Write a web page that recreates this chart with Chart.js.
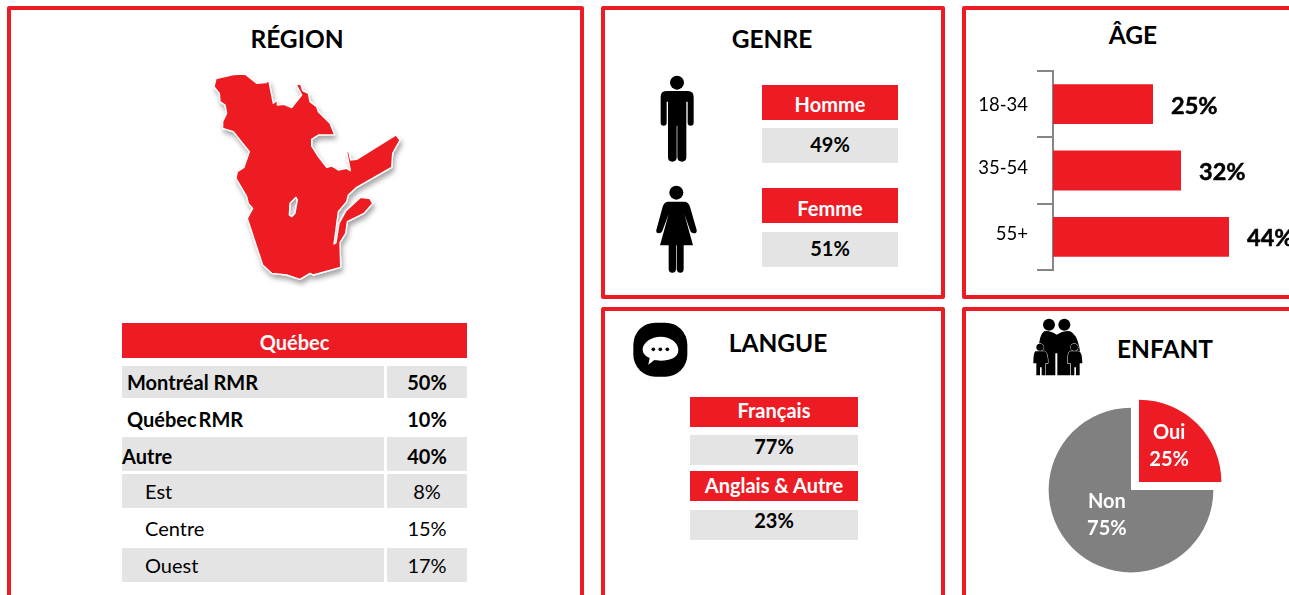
<!DOCTYPE html>
<html lang="fr"><head><meta charset="utf-8">
<script src="https://cdn.jsdelivr.net/npm/chart.js@4"></script>
<style>
html,body{margin:0;padding:0;background:#fff;overflow:hidden;width:1289px;height:595px;font-family:Lato,Carlito,sans-serif;color:#000}
#stage{position:relative;width:1289px;height:595px;overflow:hidden}
.abs{position:absolute;box-sizing:border-box}
.panel{border:4px solid #ED1C24;border-radius:2px}
.title{font-weight:700;font-size:24.5px;text-align:center;white-space:nowrap;transform:translateX(-50%);line-height:30px}
.cell{display:flex;align-items:center;justify-content:center;font-size:20px;white-space:nowrap}
.cell span{position:relative}
.red{background:#ED1C24;color:#fff;font-weight:700}
.gray{background:#E4E4E4}
.b{font-weight:700}
canvas{position:absolute}
</style></head><body><div id="stage">
<svg class="abs" style="left:190px;top:60px;overflow:visible" width="230" height="230" viewBox="0 0 690 690">
<defs><filter id="sh" x="-10%" y="-10%" width="125%" height="125%"><feDropShadow dx="5" dy="12" stdDeviation="8" flood-color="#000" flood-opacity=".35"/></filter></defs>
<path filter="url(#sh)" fill="#ED1C24" stroke="#fff" stroke-width="4" stroke-linejoin="round" fill-rule="evenodd" d="M78 56L130 44L165 42L200 70L228 68L236 60L250 130L262 120L262 135L282 133L305 143L335 105L318 72L332 73L338 92L355 100L360 125L380 140L385 155L420 190L434 224L385 225L365 238L365 258L385 290L410 322L425 318L445 330L470 325L481 332L470 275L476 275L482 300L500 298L618 225L630 240L608 280L605 322L500 382L475 405L470 425L445 455L432 552L438 548L447 490L468 452L512 412L540 416L548 430L522 460L472 485L467 520L450 548L452 622L370 645L360 640L330 658L290 645L245 640L218 615L172 475L188 445L175 430L170 410L138 355L142 335L162 322L178 275L130 215L98 205L98 185L110 160L105 135L90 125L88 100L72 80Z M300 430L318 412L322 420L315 460L305 470L298 465Z"/>
</svg>
<svg class="abs" style="left:620px;top:60px" width="100" height="220" viewBox="0 0 300 660" fill="#000">
<circle cx="171" cy="68" r="21"/>
<path d="M138 93H204Q221 93 221 112V188Q221 197 212 197T203 188V125H199V292Q199 305 186 305T172 292V197H170V292Q170 305 157 305T144 292V125H140V188Q140 197 131 197T122 188V112Q122 93 138 93Z"/>
<circle cx="169" cy="398" r="21"/>
<path d="M145 425H193Q205 425 210 440L230 510Q231 520 222 520T210 510L193 462L219 556H191V626Q191 638 181 638T170 626V556H168V626Q168 638 157 638T146 626V556H120L146 462L128 510Q125 520 116 520T109 510L128 440Q133 425 145 425Z"/>
</svg>
<svg class="abs" style="left:620px;top:310px" width="90" height="80" viewBox="0 0 270 240">
<rect x="40" y="38" width="162" height="162" rx="66" fill="#000"/>
<path d="M122 80C150 80 175 97 175 120S150 152 122 152C114 152 108 151 103 150L85 164L89 144C76 138 68 132 68 118C68 98 94 80 122 80Z" fill="#fff"/>
<circle cx="100" cy="118" r="5.5" fill="#000"/><circle cx="121" cy="118" r="5.5" fill="#000"/><circle cx="142" cy="118" r="5.5" fill="#000"/>
</svg>
<svg class="abs" style="left:1020px;top:310px" width="220" height="80" viewBox="0 0 660 240" fill="#000">
<circle cx="87" cy="44" r="18"/><circle cx="133" cy="44" r="18"/>
<path d="M72 64Q88 60 110 74Q130 60 150 64Q170 72 178 112L180 125L150 140V196H112V130H106V196H72V140L56 125Q56 76 72 64Z"/>
<g stroke="#fff" stroke-width="3" paint-order="stroke">
<circle cx="60" cy="112" r="11"/><circle cx="163" cy="112" r="11"/>
<path d="M46 124H74Q84 128 84 160H76V196H65V172H60V196H49V160H40Q40 128 46 124Z"/>
<path d="M149 124H177Q187 128 187 160H179V196H168V172H163V196H152V160H143Q143 128 149 124Z"/>
</g>
</svg>
<div id="dom"></div>
<canvas id="ageChart" style="left:963px;top:60px" width="326" height="225"></canvas>
<canvas id="childChart" style="left:1014px;top:373px" width="234" height="235"></canvas>
</div>
<script>
/* ---------- data ---------- */
const titles = ["RÉGION","GENRE","ÂGE","LANGUE","ENFANT"];
const regionHeader = "Québec";
const regionLabels = ["Montréal RMR","Québec RMR","Autre","Est","Centre","Ouest"];
const regionValues = [50,10,40,8,15,17];
const genderLabels = ["Homme","Femme"];
const genderValues = [49,51];
const languageLabels = ["Français","Anglais & Autre"];
const languageValues = [77,23];
const ageCategories = ["18-34","35-54","55+"];
const ageValues = [25,32,44];
const childLabels = ["Oui","Non"];
const childValues = [25,75];

const RED="#ED1C24", GREY="#808080", FONT="Lato, Carlito, sans-serif";
const dom=document.getElementById("dom");
function box(cls,x,y,w,h,text,extra,shift){
  const d=document.createElement("div");d.className="abs "+cls;
  d.style.cssText=`left:${x}px;top:${y}px;width:${w}px;height:${h}px;`+(extra||"");
  if(text!=null){const s=document.createElement("span");s.textContent=text;s.style.top=(shift||0)+"px";d.appendChild(s);}
  dom.appendChild(d);return d;
}
/* panels */
[[7,6,577,640],[601,6,344,293],[962,6,400,293],[601,307,344,340],[962,307,400,340]].forEach(p=>box("panel",...p));
/* titles */
[[297,24],[772,24],[1133,20],[778,328],[1165,334]].forEach((p,i)=>{
  const d=box("title",p[0],p[1],"auto",30,titles[i]);d.style.width="auto";
});
/* region table */
box("cell red",122,323,345,35,regionHeader,"",1);
const rowTops=[366,402,437,474,511,548], rowH=[32,33,34,34,34,34];
const shaded=[true,false,true,true,false,true];
const rowShift=[0,0,2,0,0,0];
regionLabels.forEach((lab,i)=>{
  const bold=i<3, indent=[127,127,122,145,145,145][i];
  const bg=shaded[i]?"gray":"";
  box("cell "+bg+(bold?" b":""),122,rowTops[i],262,rowH[i],lab,`justify-content:flex-start;padding-left:${indent-122}px;`+(i===1?"word-spacing:-3px;":""),rowShift[i]);
  box("cell "+bg+(bold?" b":""),387,rowTops[i],80,rowH[i],regionValues[i]+"%","",rowShift[i]);
});
/* gender */
genderLabels.forEach((lab,i)=>{
  const t=[85,188][i], g=[128,232][i];
  box("cell red",762,t,136,35,lab,"",[1,2][i]);
  box("cell gray b",762,g,136,35,genderValues[i]+"%","",-2);
});
/* language */
languageLabels.forEach((lab,i)=>{
  const t=[397,471][i], g=[435,510][i];
  box("cell red",690,t,168,30,lab,"",[-2,-1][i]);
  box("cell gray b",690,g,168,30,languageValues[i]+"%","",[-4,-5][i]);
});

/* ---------- Chart.js: age bars ---------- */
const barLabels={id:"barLabels",afterDatasetsDraw(c){
  const ctx=c.ctx;ctx.save();ctx.font="700 23.5px "+FONT;ctx.fillStyle="#000";ctx.strokeStyle="#000";ctx.lineWidth=.5;ctx.textBaseline="middle";
  c.getDatasetMeta(0).data.forEach((el,i)=>{const t=ageValues[i]+"%";ctx.fillText(t,el.x+18,el.y+2);ctx.strokeText(t,el.x+18,el.y+2);});
  /* category names: drawn from the scale so each can sit as in the reference */
  const s=c.scales.y, nudge=[1,-2,-3];
  ctx.font="400 18.5px "+FONT;ctx.textAlign="right";
  ageCategories.forEach((t,i)=>ctx.fillText(t,s.right-25,s.getPixelForTick(i)+nudge[i]));
  ctx.restore();
}};
new Chart(document.getElementById("ageChart"),{
  type:"bar",
  data:{labels:ageCategories,datasets:[{data:ageValues,backgroundColor:RED,borderWidth:0,barPercentage:.6,categoryPercentage:1}]},
  options:{indexAxis:"y",responsive:false,animation:false,
    layout:{padding:{left:0,right:0,top:11,bottom:15}},
    plugins:{legend:{display:false},tooltip:{enabled:false}},
    scales:{
      x:{display:false,min:0,max:59},
      y:{offset:true,
        grid:{offset:true,drawOnChartArea:false,drawTicks:true,tickLength:16,color:"#868686",lineWidth:2},
        border:{display:true,color:"#868686",width:2},
        afterFit(s){s.width=90;s.paddingTop=0;s.paddingBottom=0;},
        ticks:{display:false}}
    }}
  ,plugins:[barLabels]});

/* ---------- Chart.js: child pie ---------- */
const pieLabels={id:"pieLabels",afterDatasetsDraw(c){
  const ctx=c.ctx;ctx.save();ctx.font="700 20px "+FONT;ctx.fillStyle="#fff";ctx.textAlign="center";ctx.textBaseline="middle";
  const nudge=[[-7,1],[5,-4.5]];
  c.getDatasetMeta(0).data.forEach((el,i)=>{
    const p=el.tooltipPosition();const x=p.x+nudge[i][0],y=p.y+nudge[i][1];
    ctx.fillText(childLabels[i],x,y-13.5);
    ctx.fillText(childValues[i]+"%",x,y+13.5);
  });ctx.restore();
}};
new Chart(document.getElementById("childChart"),{
  type:"pie",
  data:{labels:childLabels,datasets:[{data:childValues,backgroundColor:[RED,GREY],borderWidth:0,offset:[45.25,0]}]},
  options:{responsive:false,animation:false,layout:{padding:{left:12,right:12,top:12,bottom:13}},
    plugins:{legend:{display:false},tooltip:{enabled:false}}},
  plugins:[pieLabels]});
</script></body></html>
